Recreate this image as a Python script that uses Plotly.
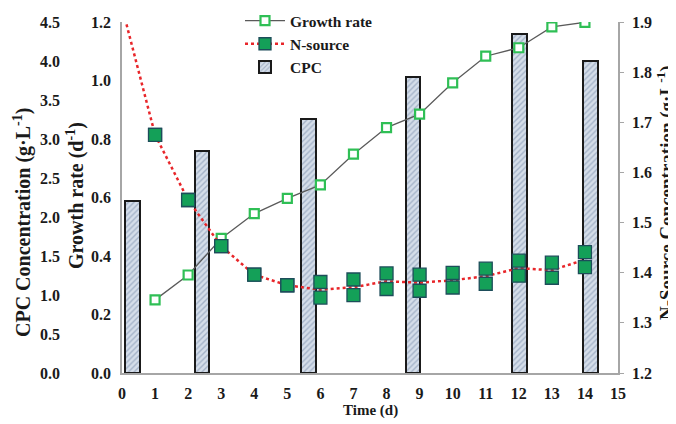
import numpy as np
import plotly.graph_objects as go

# ---------- data ----------
days_gr = [1, 2, 3, 4, 5, 6, 7, 8, 9, 10, 11, 12, 13, 14]
growth_rate = [0.25, 0.335, 0.46, 0.545, 0.597, 0.643, 0.748, 0.839, 0.885,
               0.992, 1.083, 1.112, 1.183, 1.199]

days_n = [0, 1, 2, 3, 4, 5, 6, 7, 8, 9, 10, 11, 12, 13, 14]
n_source = [1.93, 1.675, 1.545, 1.453, 1.396, 1.375, 1.366, 1.371, 1.383,
            1.380, 1.385, 1.393, 1.409, 1.405, 1.426]
n_err = [0, 0, 0, 0, 0, 0, 0.0155, 0.0155, 0.0155, 0.016, 0.0145, 0.015,
         0.015, 0.015, 0.015]

cpc_time = [0.31, 2.42, 5.64, 8.8, 12.02, 14.16]
cpc = [2.2, 2.84, 3.26, 3.8, 4.35, 4.0]

# ---------- style ----------
FONT = "Liberation Serif"
AX_GRAY = "#a6a6a6"
GREEN = "#14a058"
GREEN_LIGHT = "#2fbf55"
RED = "#e8262a"

# page has an 8px body margin, so the figure is shrunk by it and all
# screen positions are shifted
OFF = 8
W, H = 676 - OFF, 424 - OFF


def fx(px):
    return (px - OFF) / W


def fy(py):
    return 1 - (py - OFF) / H


# plot-area edges in screen pixels
PX_L, PX_R, PX_T, PX_B = 122, 618, 22, 373

n_mean = np.array(n_source)
n_e = np.array(n_err)
is_day0 = np.array(days_n) == 0
n_upper = np.where(is_day0, np.nan, n_mean + n_e)
n_lower = np.where(is_day0, np.nan, n_mean - n_e)

fig = go.Figure()

# CPC bars (base axis, drawn first so they sit behind the lines)
fig.add_trace(go.Bar(
    x=cpc_time, y=cpc, width=0.44, name="CPC",
    marker=dict(color="#d5deea",
                line=dict(color="#1a1a1a", width=2),
                pattern=dict(shape="/", fgcolor="#7387a6", size=4, solidity=0.35)),
    legendrank=3, yaxis="y",
))

# growth rate
fig.add_trace(go.Scatter(
    x=days_gr, y=growth_rate, mode="lines+markers", name="Growth rate",
    line=dict(color="#5a5a5a", width=1.3),
    marker=dict(symbol="square", size=9, color="white",
                line=dict(color=GREEN_LIGHT, width=2.2)),
    legendrank=1, yaxis="y2",
))

# N-source: dotted mean line, markers at the two error ends
fig.add_trace(go.Scatter(
    x=days_n, y=n_mean, mode="lines", showlegend=False,
    line=dict(color=RED, width=2.5, dash="dot"), yaxis="y3",
))
for arr in (n_upper, n_lower):
    fig.add_trace(go.Scatter(
        x=days_n, y=arr, mode="markers", showlegend=False,
        marker=dict(symbol="square", size=13, color=GREEN,
                    line=dict(color="#1d4d5a", width=1.3)),
        yaxis="y3",
    ))
# legend entry for N-source
fig.add_trace(go.Scatter(
    x=[None], y=[None], mode="lines+markers", name="N-source",
    line=dict(color=RED, width=2.5, dash="dot"),
    marker=dict(symbol="square", size=12, color=GREEN,
                line=dict(color="#1d4d5a", width=1.3)),
    legendrank=2, yaxis="y3",
))

tick_font = dict(family=FONT, size=16, color="#1a1a1a", weight="bold")

fig.update_layout(
    width=W, height=H,
    margin=dict(l=0, r=0, t=0, b=0, autoexpand=False),
    paper_bgcolor="white", plot_bgcolor="white",
    bargap=0,
    xaxis=dict(domain=[fx(PX_L), fx(PX_R)], range=[0, 15], dtick=1, tick0=0,
               showgrid=False, zeroline=False, showline=True,
               linecolor=AX_GRAY, linewidth=1.5, ticks="",
               ticklabelstandoff=5, tickfont=tick_font, anchor="y"),
    yaxis=dict(domain=[fy(PX_B), fy(PX_T)], range=[0, 4.5], dtick=0.5,
               tickformat=".1f", anchor="free", position=fx(60),
               showgrid=False, zeroline=False, showline=False, ticks="",
               tickfont=tick_font),
    yaxis2=dict(range=[0, 1.2], dtick=0.2, tickformat=".1f",
                overlaying="y", side="left", anchor="x",
                showgrid=False, zeroline=False, showline=True,
                linecolor=AX_GRAY, linewidth=1.5, ticks="",
                ticklabelstandoff=6, tickfont=tick_font),
    yaxis3=dict(range=[1.2, 1.9], dtick=0.1, tickformat=".1f",
                overlaying="y", side="right", anchor="x",
                showgrid=False, zeroline=False, showline=True,
                linecolor=AX_GRAY, linewidth=1.5, ticks="outside",
                ticklen=4, tickcolor=AX_GRAY, ticklabelstandoff=5,
                tickfont=tick_font),
    legend=dict(x=fx(240), y=fy(4), xanchor="left", yanchor="top",
                bgcolor="rgba(0,0,0,0)",
                font=dict(family=FONT, size=15.5, color="#1a1a1a", weight="bold"),
                tracegroupgap=0, itemwidth=40),
    showlegend=True,
)

# axis titles as annotations: text, x, y, angle, size
titles = [
    ("CPC Concentration (g·L<sup>-1</sup>)", 22, 223, -90, 20),
    ("Growth rate (d<sup>-1</sup>)", 76, 196, -90, 20),
    ("N-Source Concentration (g·L<sup>-1</sup>)", 665, 193, -90, 19),
    ("Time (d)", 370, 410, 0, 15),
]
for text, tx, ty, ang, size in titles:
    fig.add_annotation(x=fx(tx), y=fy(ty), xref="paper", yref="paper",
                       xanchor="center", yanchor="middle",
                       text=text, textangle=ang, showarrow=False,
                       font=dict(family=FONT, size=size, color="#1a1a1a",
                                 weight="bold"))

fig.write_html("out.html")
